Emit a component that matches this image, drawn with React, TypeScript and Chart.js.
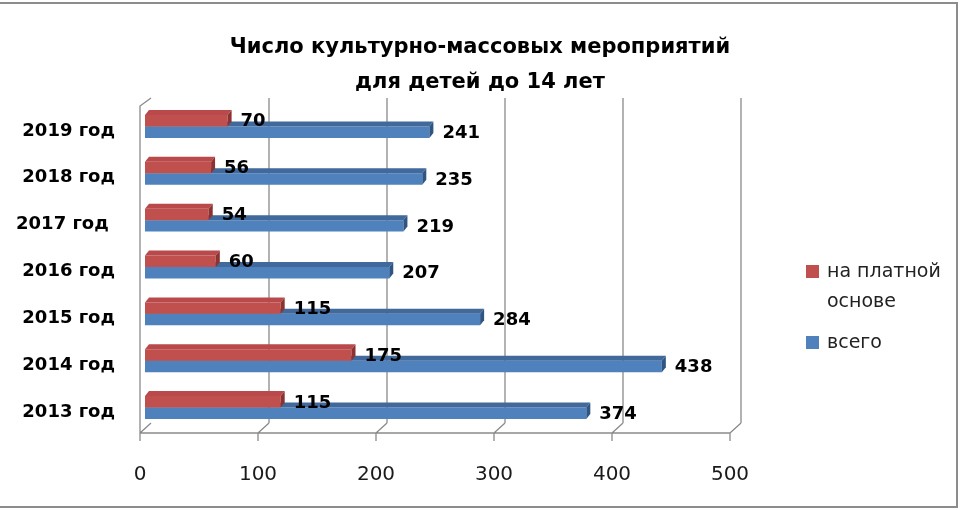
import React, { useEffect, useRef } from "react";
import { Chart, registerables, Plugin } from "chart.js";

Chart.register(...registerables);

const years = ["2019 год", "2018 год", "2017 год ", "2016 год", "2015 год", "2014 год", "2013 год"];
const paidEvents = [70, 56, 54, 60, 115, 175, 115];
const totalEvents = [241, 235, 219, 207, 284, 438, 374];
const seriesNames = ["на платной основе", "всего"];
const titleLines = ["Число культурно-массовых мероприятий", "для детей до 14 лет"];

const frontColors = ["#C0504D", "#4F81BD"];
const topColors = ["#B9494A", "#41699C"];
const sideColors = ["#8C3331", "#2F5583"];

const FONT = "'DejaVu Sans', sans-serif";
const GRID = "#8a8a8a";

// depth of the bars' 3d faces
const DX = 4;
const DY = 5;

const grid3d: Plugin<"bar"> = {
  id: "grid3d",
  beforeDatasetsDraw(chart) {
    const { ctx, chartArea } = chart;
    const x = chart.scales.x;
    const frontY = chartArea.bottom + 2;
    const backY = chartArea.bottom - 8;
    const topY = chartArea.top - 5;
    const ticks = x.ticks.map((t) => x.getPixelForValue(t.value));
    ctx.save();
    ctx.strokeStyle = GRID;
    ctx.lineWidth = 1.3;
    ctx.beginPath();
    ticks.forEach((px, i) => {
      const fx = px - 5;
      const bx = px + 6;
      if (i > 0) {
        ctx.moveTo(bx, topY);
        ctx.lineTo(bx, backY);
      }
      ctx.moveTo(fx, frontY);
      ctx.lineTo(bx, backY);
      ctx.moveTo(fx, frontY);
      ctx.lineTo(fx, frontY + 8);
    });
    // front floor edge
    ctx.moveTo(ticks[0] - 5, frontY);
    ctx.lineTo(ticks[ticks.length - 1] - 5, frontY);
    // left wall
    ctx.moveTo(ticks[0] - 5, frontY);
    ctx.lineTo(ticks[0] - 5, topY + 8);
    ctx.lineTo(ticks[0] + 6, topY);
    ctx.stroke();
    ctx.restore();
  },
};

const bar3d: Plugin<"bar"> = {
  id: "bar3d",
  afterDatasetDraw(chart, args) {
    const { ctx } = chart;
    const i = args.index;
    ctx.save();
    args.meta.data.forEach((el: any) => {
      const { x, y, base, height } = el.getProps(["x", "y", "base", "height"], true);
      const top = y - height / 2;
      const bottom = y + height / 2;
      ctx.fillStyle = topColors[i];
      ctx.beginPath();
      ctx.moveTo(base, top);
      ctx.lineTo(x, top);
      ctx.lineTo(x + DX, top - DY);
      ctx.lineTo(base + DX, top - DY);
      ctx.closePath();
      ctx.fill();
      ctx.fillStyle = sideColors[i];
      ctx.beginPath();
      ctx.moveTo(x, top);
      ctx.lineTo(x + DX, top - DY);
      ctx.lineTo(x + DX, bottom - DY);
      ctx.lineTo(x, bottom);
      ctx.closePath();
      ctx.fill();
    });
    ctx.restore();
  },
};

const valueLabels: Plugin<"bar"> = {
  id: "valueLabels",
  afterDatasetsDraw(chart) {
    const { ctx } = chart;
    ctx.save();
    ctx.font = `bold 18px ${FONT}`;
    ctx.fillStyle = "#000";
    ctx.textAlign = "left";
    ctx.textBaseline = "middle";
    chart.data.datasets.forEach((ds, di) => {
      chart.getDatasetMeta(di).data.forEach((el: any, j) => {
        ctx.fillText(String(ds.data[j]), el.x + 13, el.y + 1);
      });
    });
    ctx.restore();
  },
};

// title centred on the whole canvas, not only on the plot area
const wideTitle: Plugin<"bar"> = {
  id: "wideTitle",
  afterDraw(chart) {
    const { ctx } = chart;
    ctx.save();
    ctx.font = `bold 21px ${FONT}`;
    ctx.fillStyle = "#000";
    ctx.textAlign = "center";
    ctx.textBaseline = "middle";
    titleLines.forEach((t, i) => ctx.fillText(t, chart.width / 2, 48 + i * 35));
    ctx.restore();
  },
};

const sideLegend: Plugin<"bar"> = {
  id: "sideLegend",
  afterDraw(chart) {
    const { ctx, chartArea } = chart;
    ctx.save();
    ctx.font = `19px ${FONT}`;
    ctx.textBaseline = "middle";
    ctx.textAlign = "left";
    const left = chartArea.right + 71;
    let y = 271;
    chart.data.datasets.forEach((ds, i) => {
      const words = String(ds.label).split(" ");
      const lines: string[] = [];
      let line = "";
      words.forEach((w) => {
        const test = line ? line + " " + w : w;
        if (line && ctx.measureText(test).width > 125) {
          lines.push(line);
          line = w;
        } else {
          line = test;
        }
      });
      lines.push(line);
      ctx.fillStyle = frontColors[i];
      ctx.fillRect(left, y - 6, 13, 13);
      ctx.fillStyle = "#222";
      lines.forEach((l, k) => ctx.fillText(l, left + 21, y + 1 + k * 30));
      y += lines.length * 30 + 11;
    });
    // outer frame (top, right, bottom)
    ctx.strokeStyle = "#8c8c8c";
    ctx.lineWidth = 2;
    ctx.beginPath();
    ctx.moveTo(0, 3);
    ctx.lineTo(chart.width - 3, 3);
    ctx.lineTo(chart.width - 3, chart.height - 3);
    ctx.lineTo(0, chart.height - 3);
    ctx.stroke();
    ctx.restore();
  },
};

export default function App() {
  const canvasRef = useRef<HTMLCanvasElement | null>(null);

  useEffect(() => {
    document.body.style.margin = "0";
    const ctx = canvasRef.current?.getContext("2d");
    if (!ctx) return;
    const chart = new Chart(ctx, {
      type: "bar",
      data: {
        labels: years,
        datasets: [
          {
            label: seriesNames[0],
            data: paidEvents,
            backgroundColor: frontColors[0],
            borderWidth: 0,
          },
          {
            label: seriesNames[1],
            data: totalEvents,
            backgroundColor: frontColors[1],
            borderWidth: 0,
          },
        ],
      },
      options: {
        indexAxis: "y",
        animation: false,
        responsive: false,
        events: [],
        layout: { padding: { left: 0, right: 225, top: 103, bottom: 0 } },
        datasets: {
          bar: { categoryPercentage: 0.49, barPercentage: 1 },
        },
        scales: {
          x: {
            min: 0,
            max: 500,
            grid: { display: false, drawTicks: false },
            border: { display: false },
            ticks: {
              stepSize: 100,
              padding: 32,
              labelOffset: -5,
              color: "#1a1a1a",
              font: { family: FONT, size: 20 },
            },
            afterFit(scale) {
              scale.height = 79;
            },
          },
          y: {
            grid: { display: false, drawTicks: false },
            border: { display: false },
            ticks: {
              padding: 30,
              labelOffset: 4.5,
              color: "#000",
              font: { family: FONT, size: 18, weight: "bold" },
            },
            afterFit(scale) {
              scale.width = 145;
            },
          },
        },
        plugins: {
          legend: { display: false },
          tooltip: { enabled: false },
          title: { display: false },
        },
      },
      plugins: [grid3d, bar3d, valueLabels, wideTitle, sideLegend],
    });
    return () => chart.destroy();
  }, []);

  return (
    <div style={{ width: 960, height: 510 }}>
      <canvas ref={canvasRef} width={960} height={510} style={{ display: "block" }} />
    </div>
  );
}
